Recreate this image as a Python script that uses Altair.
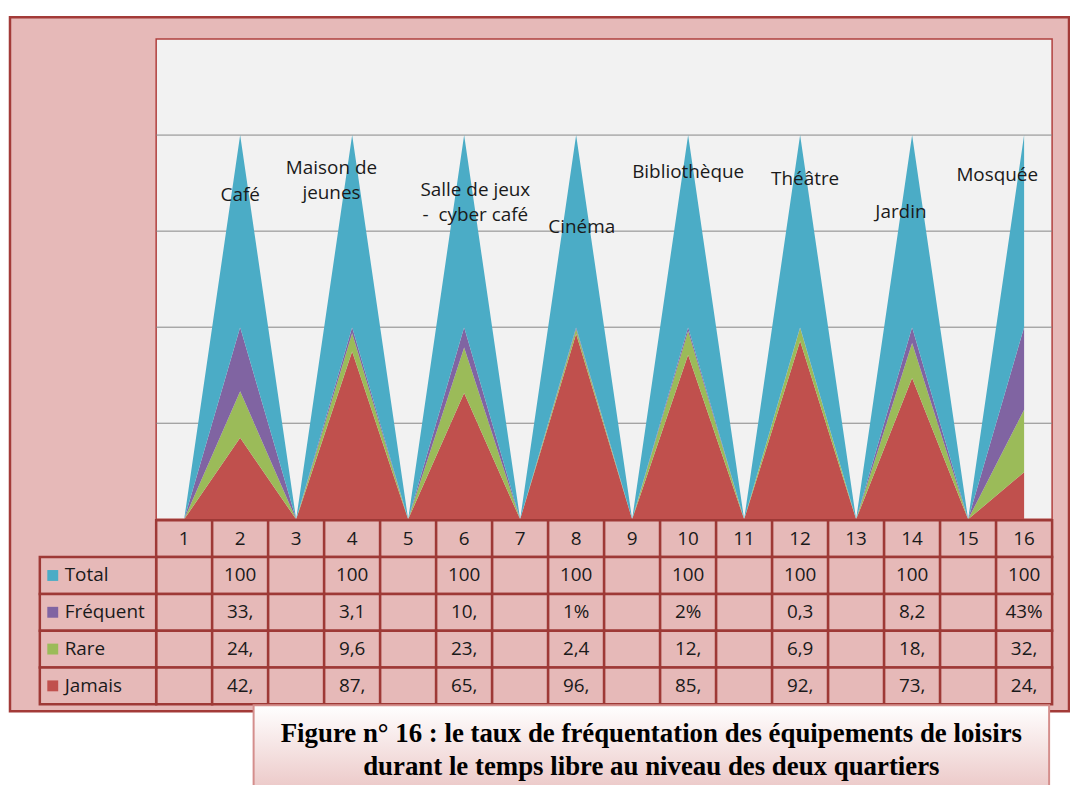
import altair as alt
import pandas as pd

# ---------------- data ----------------
categories = list(range(1, 17))
places = ["Café", "Maison de\njeunes", "Salle de jeux\n\u00a0-\u00a0\u00a0cyber café", "Cinéma",
          "Bibliothèque", "Théâtre", "Jardin", "Mosquée"]
series = ["Jamais", "Rare", "Fréquent", "Total"]
table_rows = ["Total", "Fréquent", "Rare", "Jamais"]

jamais = [42.4, 87.3, 65.8, 96.6, 85.6, 92.8, 73.5, 24.5]
rare = [24.2, 9.6, 23.6, 2.4, 12.4, 6.9, 18.3, 32.5]
frequent = [33.4, 3.1, 10.6, 1.0, 2.0, 0.3, 8.2, 43.0]
total = [100, 100, 100, 100, 100, 100, 100, 100]

jamais_txt = ["42,", "87,", "65,", "96,", "85,", "92,", "73,", "24,"]
rare_txt = ["24,", "9,6", "23,", "2,4", "12,", "6,9", "18,", "32,"]
frequent_txt = ["33,", "3,1", "10,", "1%", "2%", "0,3", "8,2", "43%"]
total_txt = ["100", "100", "100", "100", "100", "100", "100", "100"]

caption_lines = ["Figure n° 16 : le taux de fréquentation des équipements de loisirs",
                 "durant le temps libre au niveau des deux quartiers"]

# label placement (layout)
label_dx = [0, -0.37, 0.2, 0.1, 0, 0.09, -0.2, -0.48]
label_y = [169, 182.7, 171.3, 152, 181, 177, 160, 179]

colors = ["#C0504D", "#9BBB59", "#8064A2", "#4BACC6"]
PINK = "#E6B9B8"
DARK = "#9E3936"
FONT = "Open Sans"
FS = 19

# ---------------- tables ----------------
vals = {"Jamais": jamais, "Rare": rare, "Fréquent": frequent, "Total": total}
txts = {"Jamais": jamais_txt, "Rare": rare_txt, "Fréquent": frequent_txt, "Total": total_txt}

area_rows = []
for i, s in enumerate(series):
    for c in categories:
        v = vals[s][c // 2 - 1] if c % 2 == 0 else 0
        area_rows.append({"cat": c, "series": s, "value": v, "ord": i})
area_df = pd.DataFrame(area_rows)

lab_df = pd.DataFrame({
    "x": [2 * (i + 1) + label_dx[i] for i in range(len(places))],
    "y": label_y,
    "text": places,
})

cell_rows = []
for r in ["hdr"] + table_rows:
    for c in categories:
        cell_rows.append({"row": r, "lo": c - 0.5, "hi": c + 0.5})
cell_df = pd.DataFrame(cell_rows)

hdr_df = pd.DataFrame({"cat": categories, "row": ["hdr"] * 16, "text": [str(c) for c in categories]})

txt_rows = []
for r in table_rows:
    for i in range(8):
        txt_rows.append({"cat": 2 * (i + 1), "row": r, "text": txts[r][i]})
txt_df = pd.DataFrame(txt_rows)

leg_df = pd.DataFrame({"row": table_rows, "series": table_rows})

grid_df = pd.DataFrame({"g": [50, 100, 150, 200], "x0": [0.5] * 4, "x1": [16.5] * 4})
plot_df = pd.DataFrame({"x0": [0.5], "x1": [16.5], "y0": [0], "y1": [250]})
one = pd.DataFrame({"a": [0]})

# ---------------- scales ----------------
X = alt.Scale(domain=[0.5, 16.5], range=[149, 1050], nice=False, zero=False)
Y = alt.Scale(domain=[0, 250], range=[512, 29], nice=False, zero=False)
ROW = alt.Scale(domain=["hdr"] + table_rows, range=[513, 698], paddingInner=0, paddingOuter=0)
COL = alt.Scale(domain=series, range=colors)

# ---------------- layers ----------------
frame = alt.Chart(one).mark_rect(fill=PINK, stroke="#A33B38", strokeWidth=2.5).encode(
    x=alt.value(2), x2=alt.value(1067), y=alt.value(7), y2=alt.value(705))

plot_bg = alt.Chart(plot_df).mark_rect(fill="#F2F2F2", stroke="#B0403E", strokeWidth=1.5).encode(
    x=alt.X("x0:Q", scale=X, axis=None), x2="x1:Q",
    y=alt.Y("y0:Q", scale=Y, axis=None), y2="y1:Q")

grid = alt.Chart(grid_df).mark_rule(color="#868686", strokeWidth=1).encode(
    x=alt.X("x0:Q", scale=X, axis=None), x2="x1:Q",
    y=alt.Y("g:Q", scale=Y, axis=None))

areas = alt.Chart(area_df).mark_area(opacity=1, interpolate="linear").encode(
    x=alt.X("cat:Q", scale=X, axis=None),
    y=alt.Y("value:Q", scale=Y, axis=None, stack="zero"),
    color=alt.Color("series:N", scale=COL, legend=None),
    order=alt.Order("ord:Q", sort="ascending"))

labels = alt.Chart(lab_df).mark_text(font=FONT, fontSize=FS, color="#1a1a1a", lineBreak="\n",
                                     align="center", baseline="middle", lineHeight=25).encode(
    x=alt.X("x:Q", scale=X, axis=None),
    y=alt.Y("y:Q", scale=Y, axis=None),
    text="text:N")

cells = alt.Chart(cell_df).mark_rect(fill=PINK, stroke=DARK, strokeWidth=2.5).encode(
    x=alt.X("lo:Q", scale=X, axis=None), x2="hi:Q",
    y=alt.Y("row:N", scale=ROW, axis=None))

leg_cells = alt.Chart(leg_df).mark_rect(fill=PINK, stroke=DARK, strokeWidth=2.5).encode(
    x=alt.value(32), x2=alt.value(149),
    y=alt.Y("row:N", scale=ROW, axis=None))

hdr_text = alt.Chart(hdr_df).mark_text(font=FONT, fontSize=FS, color="#1a1a1a", baseline="middle").encode(
    x=alt.X("cat:Q", scale=X, axis=None),
    y=alt.Y("row:N", scale=ROW, axis=None),
    text="text:N")

cell_text = alt.Chart(txt_df).mark_text(font=FONT, fontSize=FS, color="#1a1a1a", baseline="middle").encode(
    x=alt.X("cat:Q", scale=X, axis=None),
    y=alt.Y("row:N", scale=ROW, axis=None),
    text="text:N")

leg_sq = alt.Chart(leg_df).mark_square(size=120, filled=True, opacity=1).encode(
    x=alt.value(45),
    y=alt.Y("row:N", scale=ROW, axis=None),
    color=alt.Color("series:N", scale=COL, legend=None))

leg_text = alt.Chart(leg_df).mark_text(font=FONT, fontSize=FS, color="#1a1a1a", align="left",
                                       baseline="middle").encode(
    x=alt.value(57),
    y=alt.Y("row:N", scale=ROW, axis=None),
    text="series:N")

grad = alt.Gradient(gradient="linear",
                    stops=[alt.GradientStop(color="#FFFFFF", offset=0),
                           alt.GradientStop(color="#E8BEBD", offset=1)],
                    x1=0, x2=0, y1=0, y2=1)
cap_box = alt.Chart(one).mark_rect(fill=grad, stroke="#D48E8C", strokeWidth=2).encode(
    x=alt.value(247), x2=alt.value(1047), y=alt.value(699), y2=alt.value(800))

cap1 = alt.Chart(one).mark_text(font="Liberation Serif", fontSize=27, fontWeight="bold",
                                color="#000000", align="center", baseline="middle").encode(
    x=alt.value(647), y=alt.value(728), text=alt.value(caption_lines[0]))
cap2 = alt.Chart(one).mark_text(font="Liberation Serif", fontSize=27, fontWeight="bold",
                                color="#000000", align="center", baseline="middle").encode(
    x=alt.value(647), y=alt.value(761), text=alt.value(caption_lines[1]))

chart = alt.layer(frame, plot_bg, grid, areas, labels, cells, leg_cells, hdr_text, cell_text,
                  leg_sq, leg_text, cap_box, cap1, cap2).resolve_scale(
    y="independent", color="independent").properties(
    width=1068, height=777, padding=0, autosize="none", background="white"
).configure_view(stroke=None, fill=None)

chart.save("out.html", embed_options={"renderer": "svg", "actions": False})
